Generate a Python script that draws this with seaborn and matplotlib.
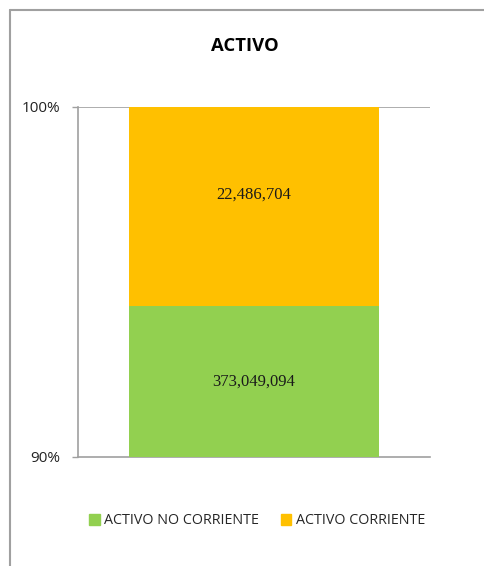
import matplotlib
matplotlib.use('Agg')
import matplotlib.pyplot as plt
import matplotlib.patches as mpatches
import seaborn as sns
import pandas as pd

# Data
categories = ['ACTIVO NO CORRIENTE', 'ACTIVO CORRIENTE']
values = [373049094, 22486704]
colors = ['#92D050', '#FFC000']
tick_values = [90, 100]
tick_labels = ['90%', '100%']

sns.set_theme(style='white')
plt.rcParams['font.family'] = ['Open Sans', 'DejaVu Sans']

total = sum(values)
pct = [v / total * 100 for v in values]
df = pd.DataFrame({'grupo': ['ACTIVO'], 'no_corriente': [pct[0]],
                   'acumulado': [pct[0] + pct[1]]})

fig = plt.figure(figsize=(4.85, 5.66), dpi=100)
ax = fig.add_axes([78 / 485, 1 - 457 / 566, 352 / 485, 350 / 566])

# stacked bar: top segment drawn first as the cumulative total
sns.barplot(data=df, x='grupo', y='acumulado', color=colors[1], saturation=1,
            width=0.8, ax=ax, zorder=2, linewidth=0)
sns.barplot(data=df, x='grupo', y='no_corriente', color=colors[0], saturation=1,
            width=0.8, ax=ax, zorder=3, linewidth=0)

ax.set_ylim(90, 100)
ax.set_xlim(-0.5632, 0.5632)
ax.set_yticks(tick_values)
ax.set_yticklabels(tick_labels, fontsize=11, color='#222222')
ax.set_xticks([])
ax.set_xlabel('')
ax.set_ylabel('')
ax.tick_params(axis='y', length=4.5, width=1, color='#A0A0A0', pad=8, left=True)
ax.axhline(100, color='#A0A0A0', lw=1.2, zorder=1)
for s in ['top', 'right']:
    ax.spines[s].set_visible(False)
for s in ['left', 'bottom']:
    ax.spines[s].set_color('#A0A0A0')
    ax.spines[s].set_linewidth(1.2)

# value labels (Excel-style placement)
mid_green = 90 + (pct[0] - 90) / 2
ax.text(0, mid_green, f'{values[0]:,}', ha='center', va='center',
        fontsize=12, family='Liberation Serif', color='#1a1a1a', zorder=4)
ax.text(0, 97.5, f'{values[1]:,}', ha='center', va='center',
        fontsize=12, family='Liberation Serif', color='#1a1a1a', zorder=4)

fig.text(245 / 485, 1 - 46 / 566, 'ACTIVO', ha='center', va='center',
         fontsize=13.3, fontweight='bold', color='black')

handles = [mpatches.Patch(color=c, label=l) for c, l in zip(colors, categories)]
fig.legend(handles=handles, loc='center', bbox_to_anchor=(257 / 485, 1 - 521 / 566),
           ncol=2, frameon=False, fontsize=10.3, handlelength=0.75, handleheight=0.75,
           handletextpad=0.3, columnspacing=1.5)

# chart border (cut at right/bottom)
fig.add_artist(plt.Line2D([10 / 485, 10 / 485], [0, 1 - 10 / 566],
                          color='#A0A0A0', lw=1.5, transform=fig.transFigure))
fig.add_artist(plt.Line2D([10 / 485, 1], [1 - 10 / 566, 1 - 10 / 566],
                          color='#A0A0A0', lw=1.5, transform=fig.transFigure))

fig.savefig('out.png', dpi=100)
